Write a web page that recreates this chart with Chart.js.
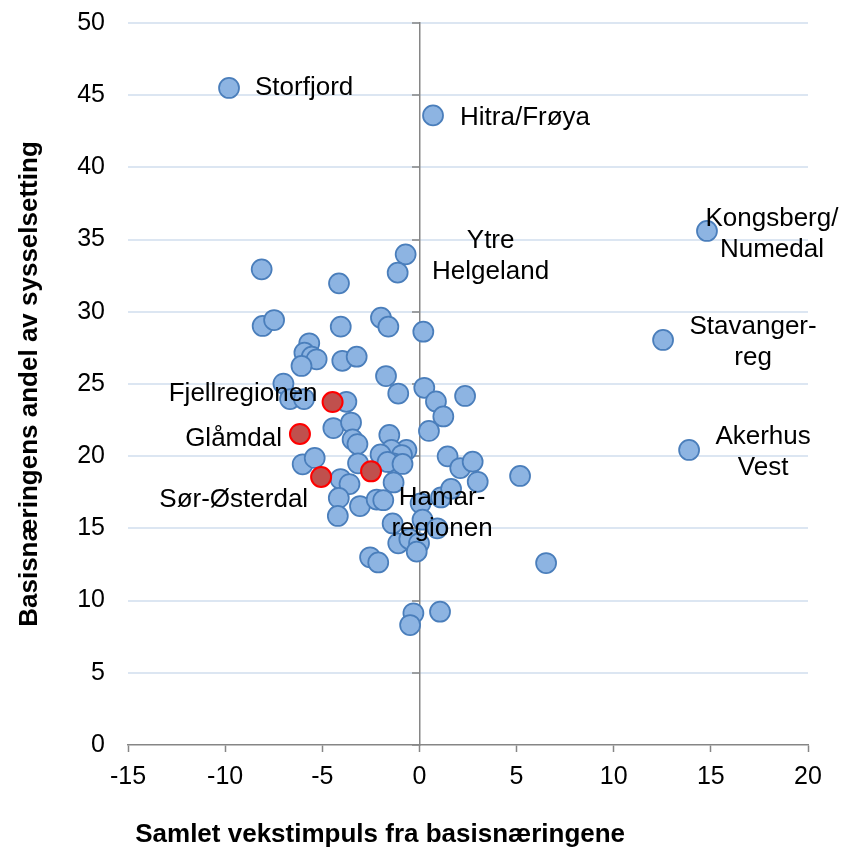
<!DOCTYPE html>
<html>
<head>
<meta charset="utf-8">
<script src="https://cdn.jsdelivr.net/npm/chart.js@4"></script>
<style>
  body { margin: 0; background: #fff; }
</style>
</head>
<body>
<canvas id="myChart" width="844" height="850"></canvas>
<script>
// regioner (blå)
const xs = [-9.80, 0.70, 14.80, 12.54, 13.88, 5.18, 6.52, -8.12, -4.14, -0.71,
  -1.12, -8.07, -7.48, -4.05, -1.98, -1.60, 0.20, -5.67, -5.92, -5.54,
  -5.29, -6.07, -3.97, -3.23, -1.72, -7.00, -6.66, -5.94, -3.76, -1.09,
  0.25, 0.85, 2.35, 1.23, -4.43, -3.52, -1.55, 0.49, -3.44, -3.19,
  -0.67, -1.44, -2.00, -0.90, -1.34, -1.64, -0.87, 1.45, 2.10, 2.74,
  3.00, -6.01, -5.39, -3.16, -4.06, -3.60, -1.33, -4.15, -4.20, -3.06,
  -2.20, -1.86, 0.06, 1.11, 1.63, -1.38, 0.16, 0.92, -1.09, -0.52,
  -0.02, -0.14, -2.54, -2.12, -0.31, -0.48, 1.06];
const ys = [45.5, 43.6, 35.6, 28.05, 20.43, 18.63, 12.6, 32.94, 31.97, 33.98,
  32.71, 29.02, 29.43, 28.97, 29.59, 28.97, 28.62, 27.82, 27.17, 26.89,
  26.71, 26.25, 26.61, 26.89, 25.55, 25.03, 23.96, 23.96, 23.77, 24.34,
  24.74, 23.79, 24.17, 22.75, 21.95, 22.33, 21.47, 21.75, 21.16, 20.84,
  20.43, 20.43, 20.12, 20.08, 19.51, 19.6, 19.46, 19.99, 19.18, 19.62,
  18.23, 19.44, 19.88, 19.51, 18.42, 18.07, 18.18, 17.11, 15.86, 16.55,
  17.0, 16.95, 16.74, 17.14, 17.74, 15.34, 15.6, 15.01, 13.97, 14.27,
  13.97, 13.39, 13.0, 12.64, 9.12, 8.31, 9.23];

// uthevede regioner (røde)
const redX = [-4.47, -6.15, -5.06, -2.49];
const redY = [23.75, 21.54, 18.56, 18.95];

const xTicks = [-15, -10, -5, 0, 5, 10, 15, 20];
const yTicks = [0, 5, 10, 15, 20, 25, 30, 35, 40, 45, 50];

const labelTexts = ['Storfjord', 'Hitra/Frøya', 'Kongsberg/\nNumedal', 'Stavanger-\nreg',
  'Akerhus\nVest', 'Ytre\nHelgeland', 'Fjellregionen', 'Glåmdal', 'Sør-Østerdal', 'Hamar-\nregionen'];

// hvor etikettene står i forhold til punktet (piksler)
const labelPlacement = [
  { ds: 0, i: 0, dx: 26, dy: 0, align: 'left' },
  { ds: 0, i: 1, dx: 27, dy: 2, align: 'left' },
  { ds: 0, i: 2, dx: 65, dy: -12, align: 'center' },
  { ds: 0, i: 3, dx: 90, dy: -13, align: 'center' },
  { ds: 0, i: 4, dx: 74, dy: -13, align: 'center' },
  { ds: 0, i: 9, dx: 85, dy: -14, align: 'center' },
  { ds: 1, i: 0, dx: -15, dy: -8, align: 'right' },
  { ds: 1, i: 1, dx: -18, dy: 5, align: 'right' },
  { ds: 1, i: 2, dx: -13, dy: 23, align: 'right' },
  { ds: 1, i: 3, dx: 71, dy: 26, align: 'center' }
];

const FONT = '"Liberation Sans", Arial, sans-serif';
const AXIS = '#868686';
const GRID = '#dce6f2';

const pointLabels = {
  id: 'pointLabels',
  afterDatasetsDraw(chart) {
    const ctx = chart.ctx;
    ctx.save();
    ctx.font = '26px ' + FONT;
    ctx.fillStyle = '#000';
    ctx.textBaseline = 'middle';
    labelTexts.forEach((txt, k) => {
      const p = labelPlacement[k];
      const pt = chart.getDatasetMeta(p.ds).data[p.i];
      ctx.textAlign = p.align;
      txt.split('\n').forEach((line, j) => {
        ctx.fillText(line, pt.x + p.dx, pt.y + p.dy + j * 31);
      });
    });
    ctx.restore();
  }
};

const ctx = document.getElementById('myChart').getContext('2d');
const myChart = new Chart(ctx, {
  type: 'scatter',
  data: {
    datasets: [{
      label: 'Regioner',
      data: xs.map((x, i) => ({ x: x, y: ys[i] })),
      backgroundColor: '#8db4e2',
      borderColor: '#4a7ebb',
      borderWidth: 1.75,
      pointRadius: 10,
      order: 1,
      xAxisID: 'x',
      yAxisID: 'y'
    }, {
      label: 'Uthevet',
      data: redX.map((x, i) => ({ x: x, y: redY[i] })),
      backgroundColor: '#c0504d',
      borderColor: '#ff0000',
      borderWidth: 2,
      pointRadius: 10,
      order: 0,
      xAxisID: 'x',
      yAxisID: 'y'
    }]
  },
  options: {
    responsive: false,
    animation: false,
    layout: { padding: { top: 23, right: 36, left: 0, bottom: 0 } },
    plugins: {
      legend: { display: false },
      tooltip: { enabled: false }
    },
    scales: {
      x: {
        type: 'linear',
        position: 'bottom',
        min: -15,
        max: 20,
        afterBuildTicks: (scale) => { scale.ticks = xTicks.map(v => ({ value: v })); },
        afterFit: (scale) => { scale.height = 105; },
        grid: {
          drawOnChartArea: false,
          drawTicks: true,
          tickLength: 7,
          tickColor: AXIS,
          tickWidth: 1.5
        },
        border: { color: AXIS, width: 1.5 },
        ticks: { font: { family: FONT, size: 25 }, color: '#000', padding: 10 },
        title: {
          display: true,
          text: ' Samlet vekstimpuls fra basisnæringene',
          align: 'start',
          color: '#000',
          font: { family: FONT, size: 26, weight: 'bold' },
          padding: { top: 0, bottom: 0 }
        }
      },
      y: {
        type: 'linear',
        position: { x: 0 },
        min: 0,
        max: 50,
        afterBuildTicks: (scale) => { scale.ticks = yTicks.map(v => ({ value: v })); },
        grid: {
          color: (c) => (c.tick && c.tick.value === 0 ? 'rgba(0,0,0,0)' : GRID),
          lineWidth: 2,
          drawTicks: true,
          tickLength: 7,
          tickColor: AXIS,
          tickWidth: 1.5
        },
        border: { color: AXIS, width: 1.5 },
        ticks: { display: false }
      },
      yl: {
        type: 'linear',
        position: 'left',
        min: 0,
        max: 50,
        afterBuildTicks: (scale) => { scale.ticks = yTicks.map(v => ({ value: v })); },
        afterFit: (scale) => { scale.width = 128; },
        // usynlige tick-streker gir avstanden mellom tall og plott
        grid: { display: true, drawOnChartArea: false, drawTicks: true, tickLength: 23, tickColor: 'rgba(0,0,0,0)' },
        border: { display: false },
        ticks: { font: { family: FONT, size: 25 }, color: '#000', padding: 0 },
        title: {
          display: true,
          text: 'Basisnæringens andel av sysselsetting',
          color: '#000',
          font: { family: FONT, size: 26, weight: 'bold' },
          padding: { top: 14, bottom: 0 }
        }
      }
    }
  },
  plugins: [pointLabels]
});
</script>
</body>
</html>
